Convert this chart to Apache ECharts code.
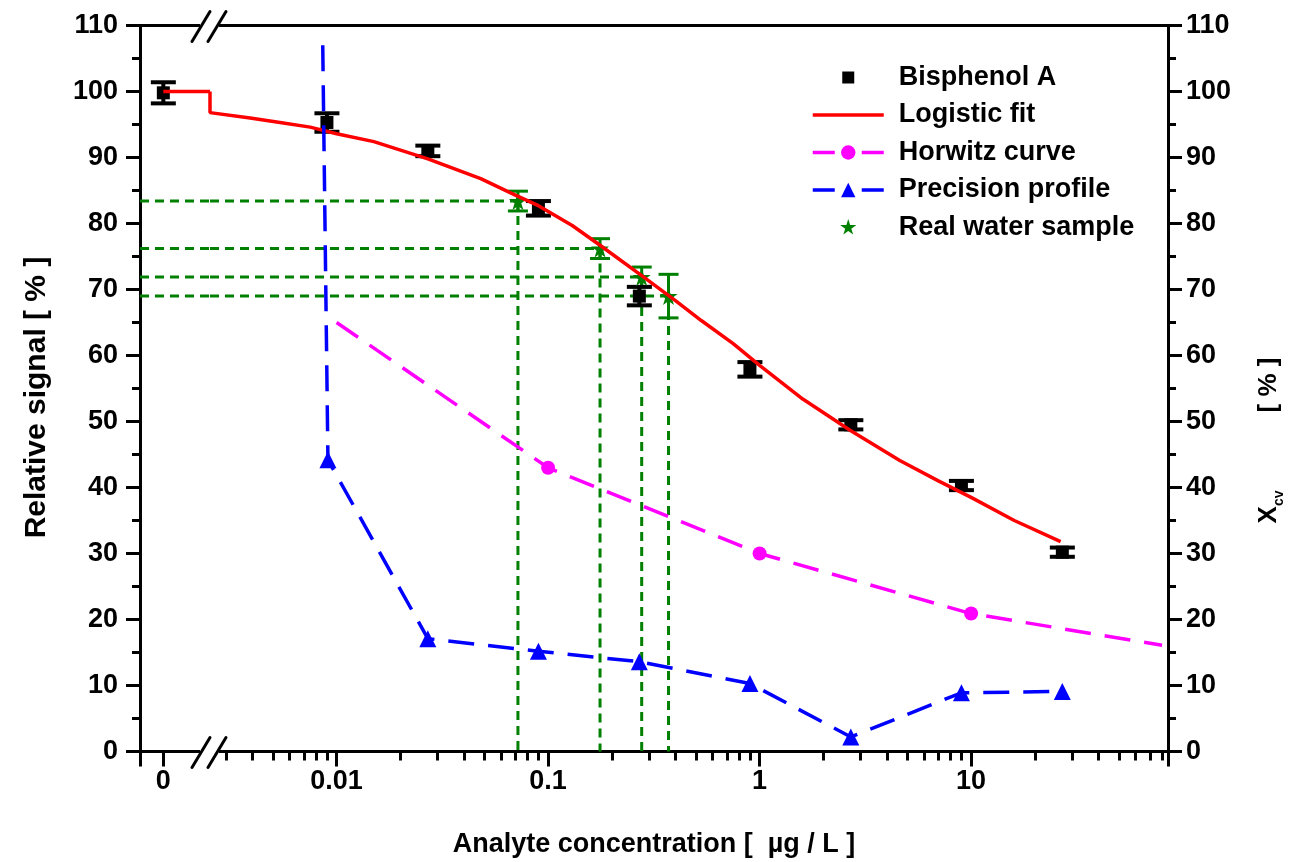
<!DOCTYPE html>
<html><head><meta charset="utf-8">
<script src="https://cdn.jsdelivr.net/npm/echarts@6/dist/echarts.min.js"></script>
<style>html,body{margin:0;padding:0;background:#fff}#c{width:1291px;height:862px}</style>
</head><body><div id="c"></div>
<script>
// ---------------- data ----------------
const blankConc = [0];
const blankSignal = [99.8];
const blankErr = [1.6];
const bpaConc = [0.009, 0.027, 0.09, 0.27, 0.9, 2.7, 9, 27];
const bpaSignal = [95.3, 91.0, 82.3, 69.0, 57.9, 49.5, 40.3, 30.2];
const bpaErr = [1.4, 0.8, 1.1, 1.4, 1.1, 0.7, 0.7, 0.7];
const fitBlankConc = [0, 2];
const fitBlankSignal = [100, 100];
const fitConc = [0.00252, 0.00252, 0.0039, 0.0054, 0.0075, 0.01, 0.015, 0.027, 0.048, 0.07, 0.09, 0.13, 0.176, 0.277, 0.4, 0.53, 0.75, 1, 1.6, 2.7, 4.6, 7, 10, 16, 26.5];
const fitSignal = [100, 96.8, 96.0, 95.3, 94.6, 93.6, 92.4, 89.8, 86.8, 84.3, 82.7, 79.7, 76.7, 72.1, 68.3, 65.3, 61.8, 58.5, 53.4, 48.6, 44.1, 41.0, 38.5, 35.0, 31.8];
const horwitzConc = [0.01, 0.1, 1, 10, 80];
const horwitzCv = [65.0, 43.0, 30.0, 20.9, 16.1];
const horwitzMarked = [false, true, true, true, false];
const precConc = [0.0086, 0.0091, 0.027, 0.09, 0.27, 0.9, 2.7, 9, 27];
const precCv = [107, 44.2, 17.1, 15.2, 13.6, 10.3, 2.2, 8.9, 9.1];
const precMarked = [false, true, true, true, true, true, true, true, true];
const sampleConc = [0.072, 0.176, 0.277, 0.371];
const sampleSignal = [83.4, 76.2, 71.9, 69.0];
const sampleErr = [1.5, 1.5, 1.5, 3.3];
const xMajorTicks = [0.01, 0.1, 1, 10];
const xTickLabels = ['0.01', '0.1', '1', '10'];
const xBlankTickLabel = '0';
const yMin = 0, yMax = 110, yInterval = 10;
const xLogMin = 0.00252, xLogMax = 85.3;
const xLinMin = -1, xLinMax = 2;
const legendNames = ['Bisphenol A', 'Logistic fit', 'Horwitz curve', 'Precision profile', 'Real water sample'];

// minor log ticks 2..9 of each decade
const xMinorTicks = [];
[0.001, 0.01, 0.1, 1, 10].forEach(d => { for (let m = 2; m <= 9; m++) { const v = +(d * m).toPrecision(3); if (v > xLogMin && v < xLogMax) xMinorTicks.push(v); } });

// ---------------- layout / style ----------------
const G = { top: 25.5, height: 726, l0: 140, w0: 70, l1: 210, w1: 958 };
const FONT = '"Liberation Sans", Arial, sans-serif';
const BLACK = '#000';
const GREEN = '#008000';
const STAR = 'path://M50,0L61,35L98,35L68,57L79,91L50,70L21,91L32,57L2,35L39,35Z';
const lbl = { fontFamily: FONT, fontWeight: 'bold', fontSize: 27, color: BLACK };
const ttl = { fontFamily: FONT, fontWeight: 'bold', fontSize: 30, color: BLACK };

function errRender(capHalf, lw, color) {
  return function (params, api) {
    const x = api.value(0), y = api.value(1), e = api.value(2);
    const t = api.coord([x, y + e]), b = api.coord([x, y - e]);
    const st = { stroke: color, lineWidth: lw };
    return { type: 'group', children: [
      { type: 'line', shape: { x1: t[0], y1: t[1], x2: b[0], y2: b[1] }, style: st },
      { type: 'line', shape: { x1: t[0] - capHalf, y1: t[1], x2: t[0] + capHalf, y2: t[1] }, style: st },
      { type: 'line', shape: { x1: b[0] - capHalf, y1: b[1], x2: b[0] + capHalf, y2: b[1] }, style: st }
    ] };
  };
}
const guideStyle = { stroke: GREEN, lineWidth: 3, lineDash: [9, 6] };

const yAxisBase = {
  type: 'value', min: yMin, max: yMax, interval: yInterval,
  axisLine: { show: true, onZero: false, lineStyle: { color: BLACK, width: 3 } },
  axisTick: { show: true, length: 14, lineStyle: { color: BLACK, width: 3 } },
  minorTick: { show: true, splitNumber: 2, length: 8, lineStyle: { color: BLACK, width: 3 } },
  splitLine: { show: false }, minorSplitLine: { show: false },
  nameLocation: 'middle', nameRotate: 90
};

const option = {
  animation: false,
  backgroundColor: '#fff',
  grid: [
    { left: G.l0, top: G.top, width: G.w0, height: G.height, containLabel: false, outerBoundsMode: 'none' },
    { left: G.l1, top: G.top, width: G.w1, height: G.height, containLabel: false, outerBoundsMode: 'none' }
  ],
  xAxis: [
    { gridIndex: 0, type: 'value', min: xLinMin, max: xLinMax, position: 'bottom',
      axisLine: { show: true, onZero: false, lineStyle: { color: BLACK, width: 3 } },
      axisTick: { show: true, length: 15, customValues: [xLinMin, 0], lineStyle: { color: BLACK, width: 3 } },
      axisLabel: Object.assign({ customValues: [0], margin: 17, formatter: () => xBlankTickLabel }, lbl),
      splitLine: { show: false } },
    { gridIndex: 0, type: 'value', min: xLinMin, max: xLinMax, position: 'top',
      axisLine: { show: true, onZero: false, lineStyle: { color: BLACK, width: 3 } },
      axisTick: { show: false }, axisLabel: { show: false }, splitLine: { show: false } },
    { gridIndex: 1, type: 'log', logBase: 10, min: xLogMin, max: xLogMax, position: 'bottom',
      axisLine: { show: true, onZero: false, lineStyle: { color: BLACK, width: 3 } },
      axisTick: { show: true, length: 15, customValues: xMajorTicks.concat([xLogMax]), lineStyle: { color: BLACK, width: 3 } },
      axisLabel: Object.assign({ customValues: xMajorTicks, margin: 17,
        formatter: v => { let best = 0; xMajorTicks.forEach((t, i) => { if (Math.abs(Math.log10(t) - Math.log10(v)) < Math.abs(Math.log10(xMajorTicks[best]) - Math.log10(v))) best = i; }); return xTickLabels[best]; } }, lbl),
      splitLine: { show: false },
      name: 'Analyte concentration [  µg / L ]', nameLocation: 'middle', nameGap: 80,
      nameTextStyle: Object.assign({ padding: [0, 70, 0, 0] }, lbl) },
    { gridIndex: 1, type: 'log', logBase: 10, min: xLogMin, max: xLogMax, position: 'bottom',
      axisLine: { show: false, onZero: false },
      axisTick: { show: true, length: 9, customValues: xMinorTicks, lineStyle: { color: BLACK, width: 3 } },
      axisLabel: { show: false }, splitLine: { show: false } },
    { gridIndex: 1, type: 'log', logBase: 10, min: xLogMin, max: xLogMax, position: 'top',
      axisLine: { show: true, onZero: false, lineStyle: { color: BLACK, width: 3 } },
      axisTick: { show: false }, axisLabel: { show: false }, splitLine: { show: false } }
  ],
  yAxis: [
    Object.assign({}, yAxisBase, { gridIndex: 0, position: 'left',
      axisLabel: Object.assign({ margin: 22 }, lbl),
      name: 'Relative signal [ % ]', nameGap: 88,
      nameTextStyle: Object.assign({ padding: [0, 18, 0, 0] }, ttl) }),
    Object.assign({}, yAxisBase, { gridIndex: 1, position: 'right',
      axisLabel: Object.assign({ margin: 18 }, lbl),
      name: '{a|X}{b|cv}{g|}{a|[ % ]}', nameGap: 84,
      nameTextStyle: { padding: [0, 104, 0, 0], rich: {
        a: { fontFamily: FONT, fontWeight: 'bold', fontSize: 26, color: BLACK, lineHeight: 30, verticalAlign: 'bottom' },
        b: { fontFamily: FONT, fontWeight: 'bold', fontSize: 14, color: BLACK, lineHeight: 30, verticalAlign: 'bottom', padding: [0, 0, -4, 0] },
        g: { width: 78, lineHeight: 30 } } } })
  ],
  legend: {
    orient: 'vertical', left: 806, top: 59, itemWidth: 71, itemHeight: 18, itemGap: 10.5,
    textStyle: Object.assign({ padding: [0, 0, 0, 10] }, lbl),
    data: [
      { name: legendNames[0], icon: 'path://M0,0M18,18M3,3h12v12h-12z' },
      { name: legendNames[1], icon: 'path://M0,0M71,18M0,7.25h71v3.5h-71z' },
      { name: legendNames[2], lineStyle: { type: [22, 27], width: 3.5 } },
      { name: legendNames[3], lineStyle: { type: [22, 27], width: 3.5 } },
      { name: legendNames[4], icon: 'path://M-3,-3M103,103' + STAR.slice(7) }
    ]
  },
  series: [
    // green guide lines (left segment)
    { type: 'custom', name: 'guideL', xAxisIndex: 0, yAxisIndex: 0, silent: true,
      data: sampleSignal.map(s => [0, s]),
      renderItem: (p, api) => { const c = api.coord([0, api.value(1)]); return { type: 'line',
        shape: { x1: p.coordSys.x, y1: c[1], x2: p.coordSys.x + p.coordSys.width, y2: c[1] }, style: guideStyle }; } },
    // green guide lines (log segment)
    { type: 'custom', name: 'guideR', xAxisIndex: 2, yAxisIndex: 1, silent: true,
      data: sampleConc.map((c, i) => [c, sampleSignal[i]]),
      renderItem: (p, api) => { const pt = api.coord([api.value(0), api.value(1)]); const base = api.coord([api.value(0), yMin]);
        return { type: 'group', children: [
          { type: 'line', shape: { x1: p.coordSys.x, y1: pt[1], x2: pt[0], y2: pt[1] }, style: guideStyle },
          { type: 'line', shape: { x1: pt[0], y1: pt[1], x2: base[0], y2: base[1] }, style: guideStyle } ] }; } },
    { type: 'custom', name: 'sampleErr', xAxisIndex: 2, yAxisIndex: 1, silent: true,
      data: sampleConc.map((c, i) => [c, sampleSignal[i], sampleErr[i]]), renderItem: errRender(10, 3, GREEN) },
    { type: 'scatter', name: legendNames[4], xAxisIndex: 2, yAxisIndex: 1, symbol: STAR, symbolSize: 18,
      itemStyle: { color: GREEN, opacity: 1 }, data: sampleConc.map((c, i) => [c, sampleSignal[i]]) },
    // Bisphenol A
    { type: 'custom', name: 'bpaErr0', xAxisIndex: 0, yAxisIndex: 0, silent: true,
      data: blankConc.map((c, i) => [c, blankSignal[i], blankErr[i]]), renderItem: errRender(12.5, 4, BLACK) },
    { type: 'custom', name: 'bpaErr', xAxisIndex: 2, yAxisIndex: 1, silent: true,
      data: bpaConc.map((c, i) => [c, bpaSignal[i], bpaErr[i]]), renderItem: errRender(12.5, 4, BLACK) },
    { type: 'scatter', name: legendNames[0], xAxisIndex: 0, yAxisIndex: 0, symbol: 'rect', symbolSize: 13,
      itemStyle: { color: BLACK, opacity: 1 }, data: blankConc.map((c, i) => [c, blankSignal[i]]) },
    { type: 'scatter', name: legendNames[0], xAxisIndex: 2, yAxisIndex: 1, symbol: 'rect', symbolSize: 13,
      itemStyle: { color: BLACK, opacity: 1 }, data: bpaConc.map((c, i) => [c, bpaSignal[i]]) },
    // Logistic fit
    { type: 'line', name: legendNames[1], xAxisIndex: 0, yAxisIndex: 0, symbol: 'none', showSymbol: false,
      lineStyle: { color: '#ff0000', width: 3.5 }, itemStyle: { color: '#ff0000' },
      data: fitBlankConc.map((c, i) => [c, fitBlankSignal[i]]) },
    { type: 'line', name: legendNames[1], xAxisIndex: 2, yAxisIndex: 1, symbol: 'none', showSymbol: false,
      lineStyle: { color: '#ff0000', width: 3.5 }, itemStyle: { color: '#ff0000' },
      data: fitConc.map((c, i) => [c, fitSignal[i]]) },
    // Horwitz
    { type: 'line', name: legendNames[2], xAxisIndex: 2, yAxisIndex: 1, symbol: 'circle', symbolSize: 14,
      lineStyle: { color: '#ff00ff', width: 3.5, type: [26, 14] }, itemStyle: { color: '#ff00ff', opacity: 1 },
      data: horwitzConc.map((c, i) => ({ value: [c, horwitzCv[i]], symbol: horwitzMarked[i] ? 'circle' : 'none' })) },
    // Precision profile
    { type: 'line', name: legendNames[3], xAxisIndex: 2, yAxisIndex: 1, symbol: 'triangle', symbolSize: 17,
      lineStyle: { color: '#0000ff', width: 3.5, type: [26, 14] }, itemStyle: { color: '#0000ff', opacity: 1 },
      data: precConc.map((c, i) => ({ value: [c, precCv[i]], symbol: precMarked[i] ? 'triangle' : 'none' })) }
  ]
};

const chart = echarts.init(document.getElementById('c'), null, { renderer: 'canvas' });
chart.setOption(option);

// axis break marks (decoration)
const bx = G.l1 - 10, yb = G.top + G.height, yt = G.top;
function brk(yc) {
  return [
    { type: 'rect', shape: { x: bx, y: yc - 4, width: 19, height: 8 }, style: { fill: '#fff' }, z: 100 },
    { type: 'line', shape: { x1: bx - 8, y1: yc + 16, x2: bx + 10, y2: yc - 14 }, style: { stroke: BLACK, lineWidth: 3, lineCap: 'round' }, z: 101 },
    { type: 'line', shape: { x1: bx + 8, y1: yc + 16, x2: bx + 26, y2: yc - 14 }, style: { stroke: BLACK, lineWidth: 3, lineCap: 'round' }, z: 101 }
  ];
}
chart.setOption({ graphic: { elements: brk(yb).concat(brk(yt)) } });
</script></body></html>
